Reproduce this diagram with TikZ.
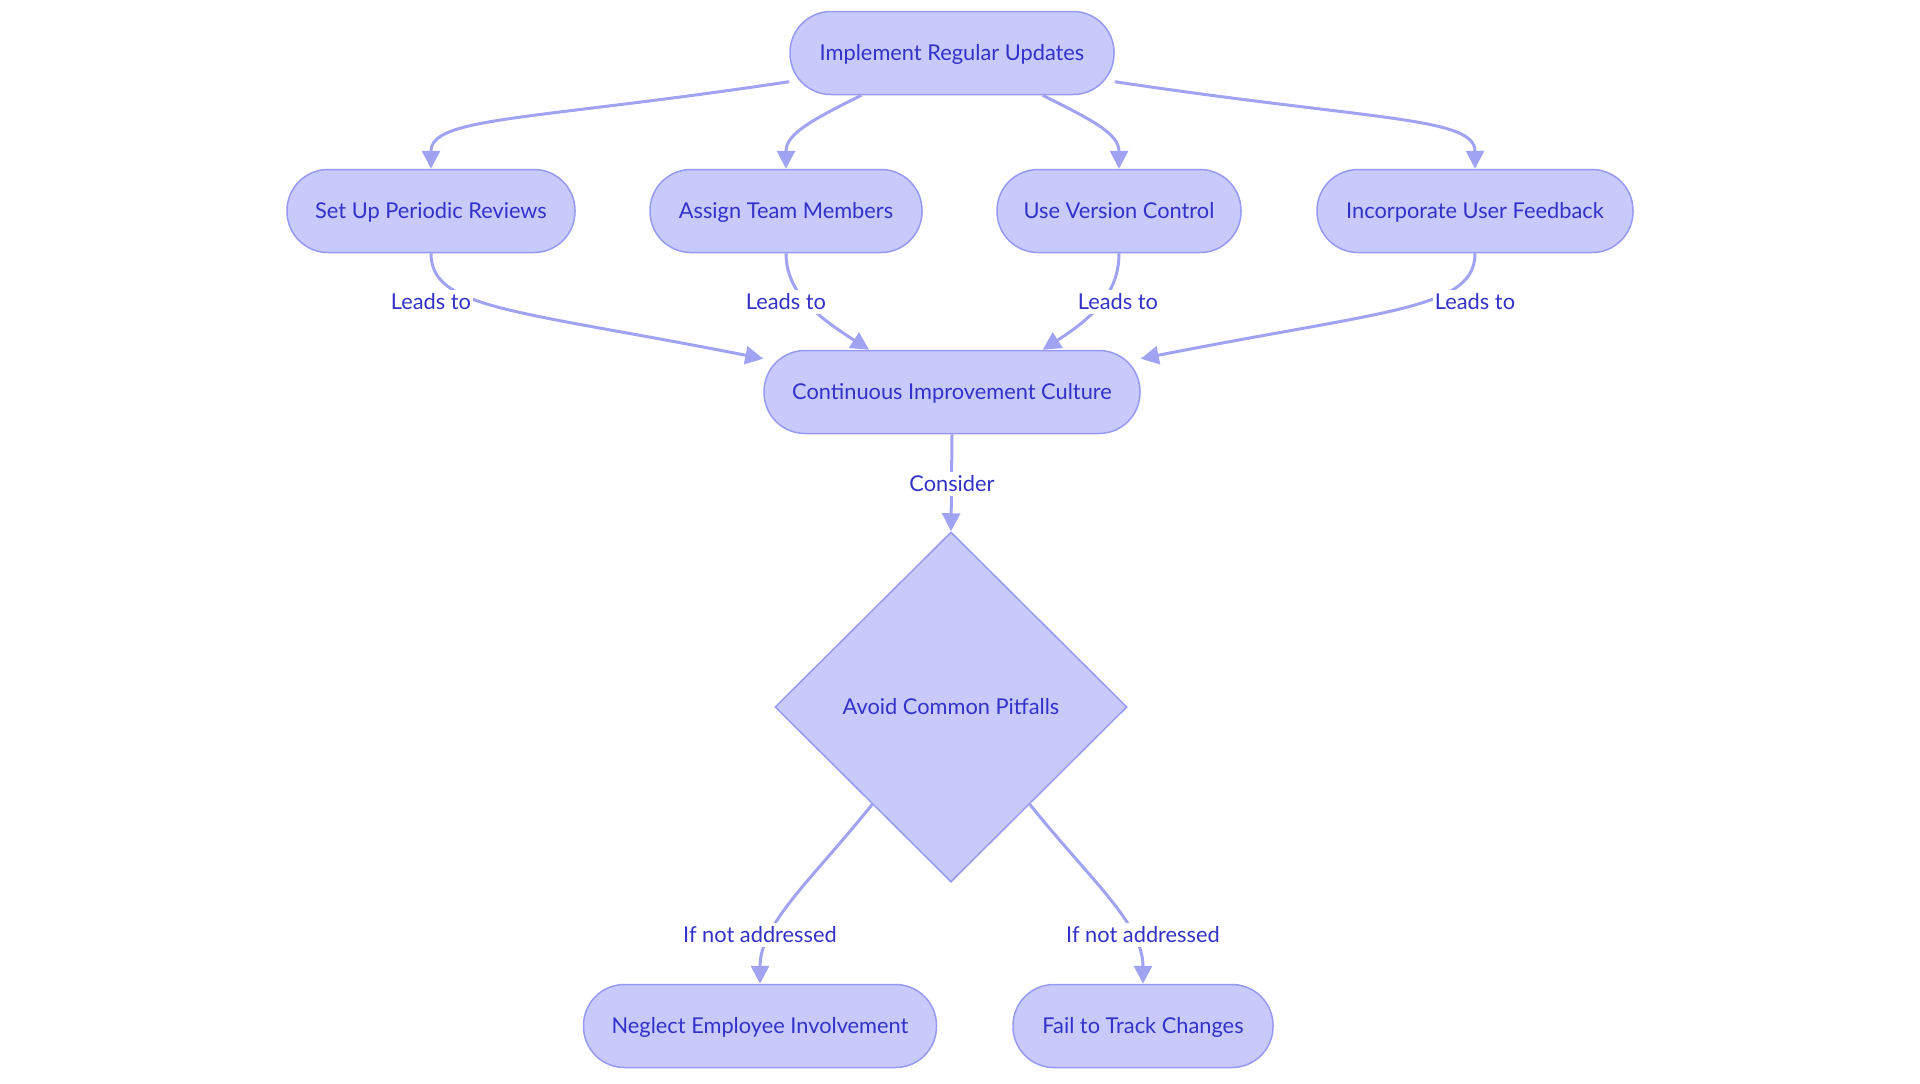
\documentclass[tikz,border=0pt]{standalone}
\usepackage{fontspec}
\setmainfont{Lato}
\usetikzlibrary{arrows.meta,shapes.geometric}
\definecolor{boxfill}{RGB}{200,202,252}
\definecolor{boxline}{RGB}{150,154,240}
\definecolor{edgeline}{RGB}{160,163,242}
\definecolor{ink}{RGB}{50,50,200}

\begin{document}
\begin{tikzpicture}[x=0.5pt,y=-0.5pt]
 \tikzset{stadium/.style={
    draw=boxline, fill=boxfill, text=ink,
    line width=0.75pt,
    minimum width=#1, minimum height=41.5pt,
    rounded corners=20.5pt,
    inner sep=0pt, text height=9pt, text depth=1.4pt,
    font=\fontsize{10.9}{13}\selectfont
  },
  stadium/.default=140pt,
  choice/.style={
    diamond, aspect=1,
    draw=boxline, fill=boxfill, text=ink,
    line width=0.75pt,
    minimum width=176pt, minimum height=175pt,
    inner sep=0pt, text height=9pt, text depth=1.4pt,
    font=\fontsize{10.9}{13}\selectfont
  },
  flow/.style={draw=edgeline, line width=1.5pt,
    -{Triangle[length=9pt,width=9pt]}},
  lbl/.style={fill=white, text=ink, inner sep=1pt,
    text height=9pt, text depth=1.4pt,
    font=\fontsize{10.9}{13}\selectfont}
}
\useasboundingbox (0,0) rectangle (1920,1083);

% boxes
\node[stadium=162pt] (upd) at (952,53) {Implement Regular Updates};
\node[stadium=144pt] (rev) at (431,211) {Set Up Periodic Reviews};
\node[stadium=136pt] (team) at (786,211) {Assign Team Members};
\node[stadium=122pt] (vcs) at (1119,211) {Use Version Control};
\node[stadium=158pt] (fb) at (1475,211) {Incorporate User Feedback};
\node[stadium=188pt] (cult) at (952,392) {Continuous Improvement Culture};
\node[choice] (pit) at (951,707) {Avoid Common Pitfalls};
\node[stadium=176.5pt] (emp) at (760,1026) {Neglect Employee Involvement};
\node[stadium=130pt] (trk) at (1143,1026) {Fail to Track Changes};

% edges
\draw[flow] (upd.190) .. controls +(-260,39) and +(0,-52) .. (rev.north);
\draw[flow] (upd.205) .. controls +(-50,25) and +(0,-35) .. (team.north);
\draw[flow] (upd.-25) .. controls +(50,25) and +(0,-35) .. (vcs.north);
\draw[flow] (upd.-10) .. controls +(260,39) and +(0,-52) .. (fb.north);

\draw[flow] (rev.south) .. controls +(0,56) and +(-248,-49) .. (cult.170);
\draw[flow] (team.south) .. controls +(0,40) and +(-50,-32) .. (cult.153);
\draw[flow] (vcs.south) .. controls +(0,40) and +(50,-32) .. (cult.25);
\draw[flow] (fb.south) .. controls +(0,56) and +(248,-49) .. (cult.10);

\draw[flow] (cult.south) -- (pit.north);

\draw[flow] (pit.231) .. controls +(-60,75) and +(0,-60) .. (emp.north);
\draw[flow] (pit.-51) .. controls +(60,75) and +(0,-60) .. (trk.north);

% labels
\node[lbl] (l1) at (431,302) {Leads to};
\node[lbl] (l2) at (786,302) {Leads to};
\node[lbl] (l3) at (1118,302) {Leads to};
\node[lbl] (l4) at (1475,302) {Leads to};
\node[lbl] (l5) at (952,484) {Consider};
\node[lbl] (l6) at (760,935) {If not addressed};
\node[lbl] (l7) at (1143,935) {If not addressed};
\end{tikzpicture}
\end{document}
